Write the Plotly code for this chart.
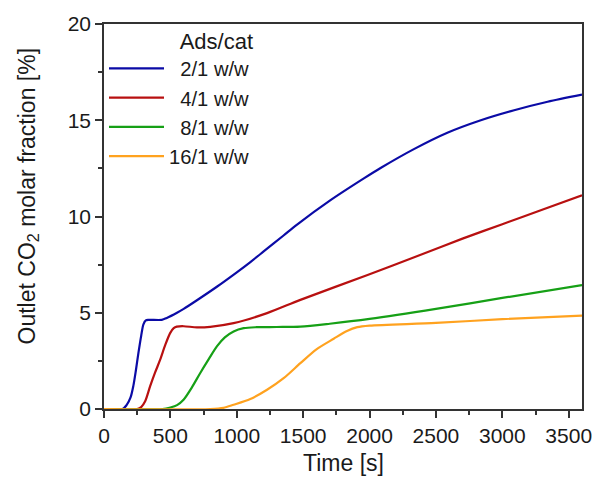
import plotly.graph_objects as go

# Data (time in s, outlet CO2 fraction in %)
t_2 = [0, 140, 170, 200, 221, 240, 259, 280, 297, 315, 335, 435, 473, 550, 600, 700, 850, 1000, 1100, 1200, 1350, 1454, 1706, 1957, 2083, 2334, 2586, 2838, 3089, 3341, 3600]
y_2 = [0, 0, 0.2, 0.6, 1.2, 2.0, 2.9, 3.8, 4.4, 4.6, 4.63, 4.63, 4.73, 5.0, 5.2, 5.65, 6.35, 7.1, 7.62, 8.17, 9.0, 9.58, 10.85, 11.98, 12.52, 13.5, 14.35, 15.0, 15.52, 15.96, 16.33]

t_4 = [0, 250, 280, 310, 347, 385, 423, 460, 498, 525, 548, 600, 700, 800, 976, 1228, 1479, 1985, 2400, 2700, 3000, 3300, 3600]
y_4 = [0, 0, 0.1, 0.4, 1.17, 1.9, 2.56, 3.3, 3.94, 4.2, 4.28, 4.3, 4.24, 4.27, 4.46, 4.98, 5.67, 6.96, 8.05, 8.85, 9.6, 10.35, 11.1]

t_8 = [0, 440, 500, 550, 599, 660, 725, 790, 850, 910, 976, 1052, 1150, 1300, 1479, 1700, 2000, 2500, 3000, 3600]
y_8 = [0, 0, 0.08, 0.2, 0.48, 1.1, 1.87, 2.6, 3.25, 3.72, 4.03, 4.2, 4.25, 4.26, 4.28, 4.43, 4.68, 5.2, 5.77, 6.44]

t_16 = [0, 800, 900, 976, 1102, 1228, 1353, 1479, 1600, 1730, 1830, 1908, 2000, 2500, 3000, 3600]
y_16 = [0, 0, 0.06, 0.22, 0.52, 1.0, 1.6, 2.38, 3.1, 3.65, 4.05, 4.25, 4.33, 4.47, 4.67, 4.85]

names = ["\u20072/1 w/w", "\u20074/1 w/w", "\u20078/1 w/w", "16/1 w/w"]
colors = ["#0b0ba6", "#b81010", "#16a016", "#ffa21f"]
series = [(t_2, y_2), (t_4, y_4), (t_8, y_8), (t_16, y_16)]

x_ticks = [0, 500, 1000, 1500, 2000, 2500, 3000, 3500]
y_ticks = [0, 5, 10, 15, 20]

FONT = "Liberation Sans, Arial, sans-serif"
TXT = "#1a1a1a"

fig = go.Figure()
for (tx, ty), nm, c in zip(series, names, colors):
    fig.add_trace(go.Scatter(
        x=tx, y=ty, mode="lines", name=nm,
        line=dict(color=c, width=2.2, shape="spline", smoothing=0.8),
    ))

axis_common = dict(
    showgrid=False, zeroline=False, showline=True, linecolor="#333333", linewidth=1.5,
    mirror=True, ticks="outside", ticklen=7, tickwidth=1.5, tickcolor="#333333",
    tickfont=dict(family=FONT, size=21, color=TXT), automargin=False,
)

fig.update_xaxes(
    range=[0, 3600], tickvals=x_ticks,
    minor=dict(ticks="outside", ticklen=4, tickwidth=1.5, tickcolor="#333333", dtick=250, tick0=0),
    **axis_common,
)
fig.update_yaxes(
    range=[0, 20], tickvals=y_ticks,
    minor=dict(ticks="outside", ticklen=4, tickwidth=1.5, tickcolor="#333333", dtick=2.5, tick0=0),
    **axis_common,
)

fig.add_annotation(
    text="Time [s]", xref="paper", yref="paper", x=0.5, y=-0.1,
    yshift=-15, xanchor="center", yanchor="middle", showarrow=False,
    font=dict(family=FONT, size=23, color=TXT),
)
fig.add_annotation(
    text="Outlet CO<sub>2</sub> molar fraction [%]", xref="paper", yref="paper",
    x=0, y=0.552, xshift=-76, xanchor="center", yanchor="middle", textangle=-90,
    showarrow=False, font=dict(family=FONT, size=23, color=TXT),
)

fig.update_layout(
    template="none",
    width=593, height=479,
    margin=dict(l=104, r=11, t=24, b=70),
    plot_bgcolor="white", paper_bgcolor="white",
    font=dict(family=FONT, size=21, color=TXT),
    showlegend=True,
    legend=dict(
        x=0.0, y=1.01, xanchor="left", yanchor="top",
        bgcolor="rgba(0,0,0,0)", borderwidth=0,
        title=dict(text="Ads/cat", side="top right", font=dict(family=FONT, size=22, color=TXT)),
        font=dict(family=FONT, size=20.2, color=TXT),
        itemwidth=55, tracegroupgap=0,
    ),
)

fig.write_html("out.html")
